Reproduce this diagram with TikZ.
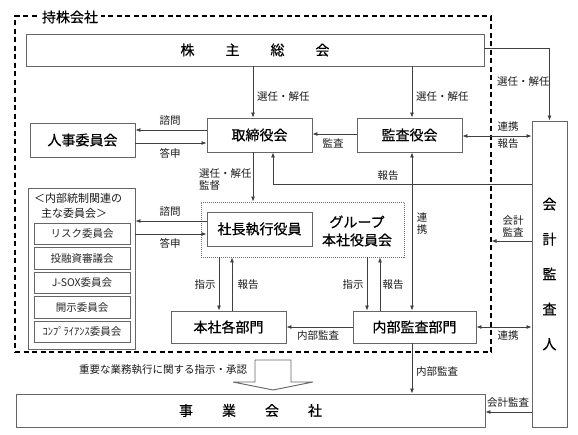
\documentclass[tikz,border=0pt]{standalone}
\usepackage{fontspec}
\setmainfont{Noto Sans CJK JP}
\newfontfamily\boxfont[FakeBold=0.6]{Noto Sans CJK JP}
\usetikzlibrary{arrows.meta}
\begin{document}
\begin{tikzpicture}[x=1pt,y=-1pt,
  box/.style={draw=black!60, line width=0.9pt, fill=white, inner sep=2pt, text=black, font=\boxfont\fontsize{14}{16}\selectfont},
  sbox/.style={draw=black!60, line width=0.8pt, inner sep=1pt, minimum width=96pt, minimum height=21.5pt, text=black!85, font=\fontsize{10.5}{12}\selectfont},
  lbl/.style={inner sep=1pt, text=black!90, font=\fontsize{10.5}{12}\selectfont},
  arr/.style={draw=black!75, line width=0.8pt, -{Latex[length=5pt,width=4pt]}},
  darr/.style={draw=black!75, line width=0.8pt, {Latex[length=5pt,width=4pt]}-{Latex[length=5pt,width=4pt]}}
]
\useasboundingbox (0,0) rectangle (578,434);
% holding company frame
\node[draw=black, dash pattern=on 5pt off 3.5pt, line width=1.2pt, minimum width=476pt, minimum height=336pt, inner sep=0pt] (frame) at (253,184) {};
\node[fill=white, inner sep=3pt, text=black, font=\boxfont\fontsize{14}{16}\selectfont] (title) at (70,17) {持株会社};
% boxes
\node[box, minimum width=458pt, minimum height=32pt] (kabu) at (255,50) {株\hspace{31pt}主\hspace{31pt}総\hspace{31pt}会};
\node[box, minimum width=105pt, minimum height=34pt] (jinji) at (82.5,140) {人事委員会};
\node[box, minimum width=105pt, minimum height=34pt] (tori) at (259.5,135) {取締役会};
\node[box, minimum width=105pt, minimum height=34pt] (kansa) at (409.5,135) {監査役会};
\node[box, minimum width=35pt, minimum height=306pt, align=center, font=\boxfont\fontsize{14}{35}\selectfont] (kaikei) at (549.5,274) {会\\計\\監\\査\\人};
\node[draw=black!60, line width=0.8pt, minimum width=107pt, minimum height=161pt, inner sep=0pt] (comm) at (81.5,268.5) {};
\node[lbl, anchor=west, align=left, font=\fontsize{11}{15}\selectfont] (commt) at (33,205.5) {＜内部統制関連の\\\hspace*{7pt}主な委員会＞};
\node[sbox] (s1) at (82,233.75) {リスク委員会};
\node[sbox] (s2) at (82,258.25) {投融資審議会};
\node[sbox] (s3) at (82,282.75) {J-SOX委員会};
\node[sbox] (s4) at (82,307.25) {開示委員会};
\node[sbox] (s5) at (82,331.75) {ｺﾝﾌﾟﾗｲｱﾝｽ委員会};
\node[draw=black!55, line width=0.8pt, dash pattern=on 1pt off 1pt, minimum width=203pt, minimum height=55pt, inner sep=0pt] (dotbox) at (302.5,229.5) {};
\node[box, minimum width=105pt, minimum height=34pt] (shacho) at (259.5,229) {社長執行役員};
\node[align=center, inner sep=0pt, text=black, font=\boxfont\fontsize{14}{18}\selectfont] (group) at (357,231) {グループ\\本社役員会};
\node[box, minimum width=115pt, minimum height=32pt] (honsha) at (228.5,327) {本社各部門};
\node[box, minimum width=123pt, minimum height=32pt] (naibu) at (414.5,327) {内部監査部門};
\node[box, minimum width=469pt, minimum height=33pt] (jigyo) at (250.5,410.5) {事\hspace{29pt}業\hspace{29pt}会\hspace{29pt}社};
% block arrow
\draw[draw=black!60, line width=0.9pt, fill=white] (255,360) -- (291,360) -- (291,382) -- (313,382) -- (273,390) -- (233,382) -- (255,382) -- cycle;
% helper coordinates
\coordinate (c1) at (253,0);
\coordinate (c2) at (412,0);
\coordinate (c4) at (273,0);
\coordinate (c5) at (219,0);
\coordinate (c6) at (232,0);
\coordinate (c7) at (367,0);
\coordinate (c8) at (380,0);
% connectors
\draw[arr] (kabu.south -| c1) -- (tori.north -| c1);
\draw[arr] (kabu.south -| c2) -- (kansa.north -| c2);
\path ([yshift=2pt]kabu.east) coordinate (k0);
\draw[arr] (k0) -| (kaikei.north);
\path ([yshift=5pt]tori.west) coordinate (a1);
\draw[arr] (a1) -- (a1 -| jinji.east);
\path ([yshift=-3pt]jinji.east) coordinate (a2);
\draw[arr] (a2) -- (a2 -| tori.west);
\path ([yshift=1pt]kansa.west) coordinate (a3);
\draw[arr] (a3) -- (a3 -| tori.east);
\path ([yshift=-1pt]kansa.east) coordinate (a4);
\draw[darr] (a4) -- (a4 -| kaikei.west);
\path ([yshift=90pt]kaikei.west) coordinate (r1);
\draw[arr] (r1) -| (tori.south -| c4);
\draw[arr] (tori.south -| c1) -- (dotbox.north -| c1);
\path ([yshift=8pt]shacho.west) coordinate (b1);
\draw[arr] (b1) -- (b1 -| comm.east);
\path ([yshift=-5pt]shacho.west) coordinate (b2);
\draw[arr] (b2 -| comm.east) -- (b2);
\draw[arr] (dotbox.south -| c5) -- (honsha.north -| c5);
\draw[arr] (honsha.north -| c6) -- (dotbox.south -| c6);
\draw[arr] (dotbox.south -| c7) -- (naibu.north -| c7);
\draw[arr] (naibu.north -| c8) -- (dotbox.south -| c8);
\draw[darr] (naibu.north -| c2) -- (kansa.south -| c2);
\draw[arr] (naibu.west) -- (honsha.east);
\draw[darr] (naibu.east) -- (naibu.east -| kaikei.west);
\path ([yshift=33pt]kaikei.west) coordinate (k2);
\draw[arr] (k2) -- (k2 -| frame.east);
\draw[arr] (naibu.south -| c2) -- (jigyo.north -| c2);
\path ([yshift=-138pt]kaikei.west) coordinate (k3);
\draw[arr] (k3) -- (k3 -| jigyo.east);
% labels
\node[lbl, anchor=west] (l1) at (256,97) {選任・解任};
\node[lbl, anchor=west] (l2) at (415,97) {選任・解任};
\node[lbl, anchor=west] (l3) at (496,82) {選任・解任};
\node[lbl] (l4) at (170,121) {諮問};
\node[lbl] (l5) at (170,153) {答申};
\node[lbl] (l6) at (333,143) {監査};
\node[lbl] (l7) at (508,127) {連携};
\node[lbl] (l8) at (508,144) {報告};
\node[lbl] (l9) at (388,176) {報告};
\node[lbl, anchor=west, align=left, font=\fontsize{10.5}{12}\selectfont] (l10) at (198,179.5) {選任・解任\\監督};
\node[lbl] (l11) at (170,212) {諮問};
\node[lbl] (l12) at (170,243) {答申};
\node[lbl] (l13) at (205,285) {指示};
\node[lbl] (l14) at (248,285) {報告};
\node[lbl] (l15) at (353,285) {指示};
\node[lbl] (l16) at (393,285) {報告};
\node[lbl, align=center, font=\fontsize{10.5}{12}\selectfont] (l17) at (422,224) {連\\携};
\node[lbl, align=center, font=\fontsize{10.5}{12}\selectfont] (l18) at (513,226) {会計\\監査};
\node[lbl] (l19) at (318,336) {内部監査};
\node[lbl] (l20) at (508,336) {連携};
\node[lbl] (l21) at (437,372) {内部監査};
\node[lbl] (l22) at (508,403) {会計監査};
\node[lbl] (l23) at (163,370) {重要な業務執行に関する指示・承認};
\end{tikzpicture}
\end{document}
